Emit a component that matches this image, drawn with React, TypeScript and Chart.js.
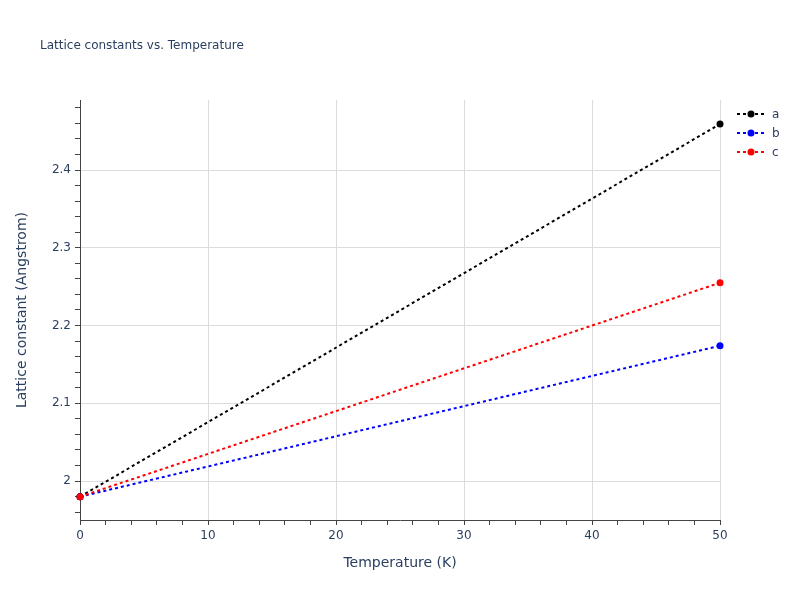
import React, { useRef, useEffect } from 'react';
import { Chart, registerables } from 'chart.js';

Chart.register(...registerables);

// chart values
const temperatures = [0, 50];
const latticeA = [1.98, 2.459];
const latticeB = [1.98, 2.174];
const latticeC = [1.98, 2.255];
const seriesNames = ['a', 'b', 'c'];
const seriesColors = ['#000000', '#0000ff', '#ff0000'];

const FONT = '"DejaVu Sans", verdana, arial, sans-serif';
const TEXT = '#2a3f5f';

// small legend drawn on the canvas, plotly style (dotted line + marker)
const legendPlugin = {
    id: 'sideLegend',
    afterDraw(chart: Chart) {
        const ctx = chart.ctx;
        ctx.save();
        chart.data.datasets.forEach((ds: any, i: number) => {
            const y = 114 + i * 19;
            ctx.strokeStyle = ds.borderColor;
            ctx.lineWidth = 2;
            ctx.setLineDash([3, 3]);
            ctx.beginPath();
            ctx.moveTo(737, y);
            ctx.lineTo(766, y);
            ctx.stroke();
            ctx.setLineDash([]);
            ctx.fillStyle = ds.borderColor;
            ctx.beginPath();
            ctx.arc(751, y, 3.5, 0, Math.PI * 2);
            ctx.fill();
            ctx.fillStyle = TEXT;
            ctx.font = `12px ${FONT}`;
            ctx.textAlign = 'left';
            ctx.textBaseline = 'middle';
            ctx.fillText(ds.label, 772, y + 1);
        });
        ctx.restore();
    },
};

const App = () => {
    const canvasRef = useRef<HTMLCanvasElement>(null);
    const chartRef = useRef<Chart | null>(null);

    useEffect(() => {
        document.body.style.margin = '0';
        const ctx = canvasRef.current?.getContext('2d');
        if (!ctx) return;
        if (chartRef.current) chartRef.current.destroy();

        const values = [latticeA, latticeB, latticeC];
        const datasets = seriesNames.map((name, i) => ({
            label: name,
            data: temperatures.map((t, j) => ({ x: t, y: values[i][j] })),
            borderColor: seriesColors[i],
            backgroundColor: seriesColors[i],
            borderWidth: 2,
            borderDash: [3, 3],
            pointRadius: 3.5,
            pointBorderWidth: 0,
            clip: false as any,
            order: 2 - i, // c drawn on top
        }));

        chartRef.current = new Chart(ctx, {
            type: 'line',
            data: { datasets },
            plugins: [legendPlugin],
            options: {
                responsive: false,
                animation: false,
                layout: { padding: { left: 0, top: 100, right: 80, bottom: 0 } },
                plugins: {
                    legend: { display: false },
                    tooltip: { enabled: false },
                },
                scales: {
                    x: {
                        type: 'linear',
                        min: 0,
                        max: 50,
                        afterBuildTicks: (scale: any) => {
                            const t = [];
                            for (let v = 0; v <= 50; v += 2) t.push({ value: v });
                            scale.ticks = t;
                        },
                        afterFit: (scale: any) => {
                            scale.height = 80;
                        },
                        ticks: {
                            autoSkip: false,
                            maxRotation: 0,
                            padding: 4,
                            color: TEXT,
                            font: { family: FONT, size: 12 },
                            callback: (v: any) => (Number(v) % 10 === 0 ? String(v) : ''),
                        },
                        grid: {
                            color: (c: any) =>
                                c.tick && c.tick.value % 10 === 0 ? '#dcdcdc' : 'rgba(0,0,0,0)',
                            tickColor: '#444',
                            tickLength: 5,
                            drawTicks: true,
                        },
                        border: { display: true, color: '#444', width: 1 },
                        title: {
                            display: true,
                            text: 'Temperature (K)',
                            color: TEXT,
                            font: { family: FONT, size: 14 },
                            padding: { top: 0, bottom: 28 },
                        },
                    },
                    y: {
                        type: 'linear',
                        min: 1.95,
                        max: 2.49,
                        afterBuildTicks: (scale: any) => {
                            const t = [];
                            for (let v = 196; v <= 248; v += 2) t.push({ value: v / 100 });
                            scale.ticks = t;
                        },
                        afterFit: (scale: any) => {
                            scale.width = 80;
                        },
                        ticks: {
                            autoSkip: false,
                            padding: 4,
                            color: TEXT,
                            font: { family: FONT, size: 12 },
                            callback: (v: any) => {
                                const n = Math.round(Number(v) * 100);
                                return n % 10 === 0 ? String(n / 100) : '';
                            },
                        },
                        grid: {
                            color: (c: any) =>
                                c.tick && Math.round(c.tick.value * 100) % 10 === 0
                                    ? '#dcdcdc'
                                    : 'rgba(0,0,0,0)',
                            tickColor: '#444',
                            tickLength: 5,
                            drawTicks: true,
                        },
                        border: { display: true, color: '#444', width: 1 },
                        title: {
                            display: true,
                            text: 'Lattice constant (Angstrom)',
                            color: TEXT,
                            font: { family: FONT, size: 14 },
                            padding: { top: 14, bottom: 0 },
                        },
                    },
                },
            },
        });

        return () => {
            if (chartRef.current) {
                chartRef.current.destroy();
                chartRef.current = null;
            }
        };
    }, []);

    return (
        <div style={{ position: 'relative', width: 800, height: 600, background: '#fff' }}>
            <div
                style={{
                    position: 'absolute',
                    left: 40,
                    top: 38,
                    fontFamily: FONT,
                    fontSize: 12,
                    color: TEXT,
                }}
            >
                Lattice constants vs. Temperature
            </div>
            <canvas ref={canvasRef} width={800} height={600}></canvas>
        </div>
    );
};

export default App;
